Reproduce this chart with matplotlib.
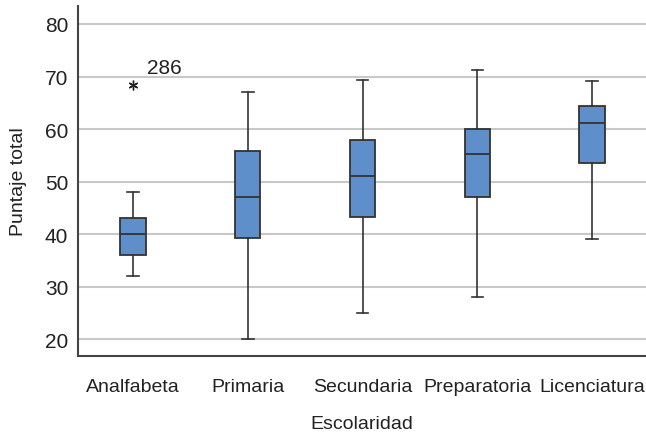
import numpy as np
from matplotlib import pyplot as plt

# Datos
categorias = ['Analfabeta', 'Primaria', 'Secundaria', 'Preparatoria', 'Licenciatura']
bigote_inf = [32, 20, 25, 28, 39]
q1 = [36, 39.2, 43.3, 47.1, 53.6]
mediana = [40, 47, 51, 55.2, 61.1]
q3 = [43, 55.9, 57.9, 60, 64.4]
bigote_sup = [48, 67, 69.3, 71.2, 69.2]
atipicos = [[68.4], [], [], [], []]
etiquetas_atipicos = [['286'], [], [], [], []]

plt.rcParams['font.family'] = ['Liberation Sans', 'DejaVu Sans']
tam = 14

f = plt.figure(figsize=(6.46, 4.39), dpi=100)
ax = f.add_axes([0.1207, 0.1868, 0.8793, 0.797])

stats = []
for i in range(len(categorias)):
    stats.append({'whislo': bigote_inf[i], 'q1': q1[i], 'med': mediana[i], 'q3': q3[i],
                  'whishi': bigote_sup[i], 'fliers': atipicos[i], 'label': categorias[i]})

cor_borda = '#333333'
ax.bxp(stats, positions=np.arange(1, len(categorias) + 1), widths=0.22, patch_artist=True,
       boxprops=dict(facecolor='#5f8fcb', edgecolor=cor_borda, linewidth=1.3),
       medianprops=dict(color=cor_borda, linewidth=1.3),
       whiskerprops=dict(color=cor_borda, linewidth=1.2),
       capprops=dict(color=cor_borda, linewidth=1.2),
       capwidths=0.1,
       flierprops=dict(marker=(6, 2, 0), markersize=7, markeredgewidth=1.0,
                       markeredgecolor='#222222', linestyle='none'),
       zorder=3)

for i in range(len(categorias)):
    for v, t in zip(atipicos[i], etiquetas_atipicos[i]):
        ax.annotate(t, xy=(i + 1, v), xytext=(10, 6), textcoords='offset points',
                    ha='left', va='bottom', fontsize=tam + 1, color='#222222')

ax.set_xlim(0.52, 5.47)
ax.set_ylim(16.8, 83.4)
ax.set_yticks([20, 30, 40, 50, 60, 70, 80])
ax.yaxis.grid(True, color='#c8c8c8', linewidth=1.5, zorder=0)
ax.set_axisbelow(True)
ax.tick_params(axis='both', length=0, labelsize=tam + 1, colors='#222222')
ax.tick_params(axis='x', labelsize=tam, pad=16)
ax.tick_params(axis='y', pad=7)

for s in ['top', 'right']:
    ax.spines[s].set_visible(False)
for s in ['left', 'bottom']:
    ax.spines[s].set_color('#444444')
    ax.spines[s].set_linewidth(1.5)

ax.set_xlabel('Escolaridad', fontsize=tam, color='#222222', labelpad=14)
ax.set_ylabel('Puntaje total', fontsize=tam, color='#222222')
ax.yaxis.set_label_coords(-0.09, 0.5)

f.savefig('out.png', dpi=100)
